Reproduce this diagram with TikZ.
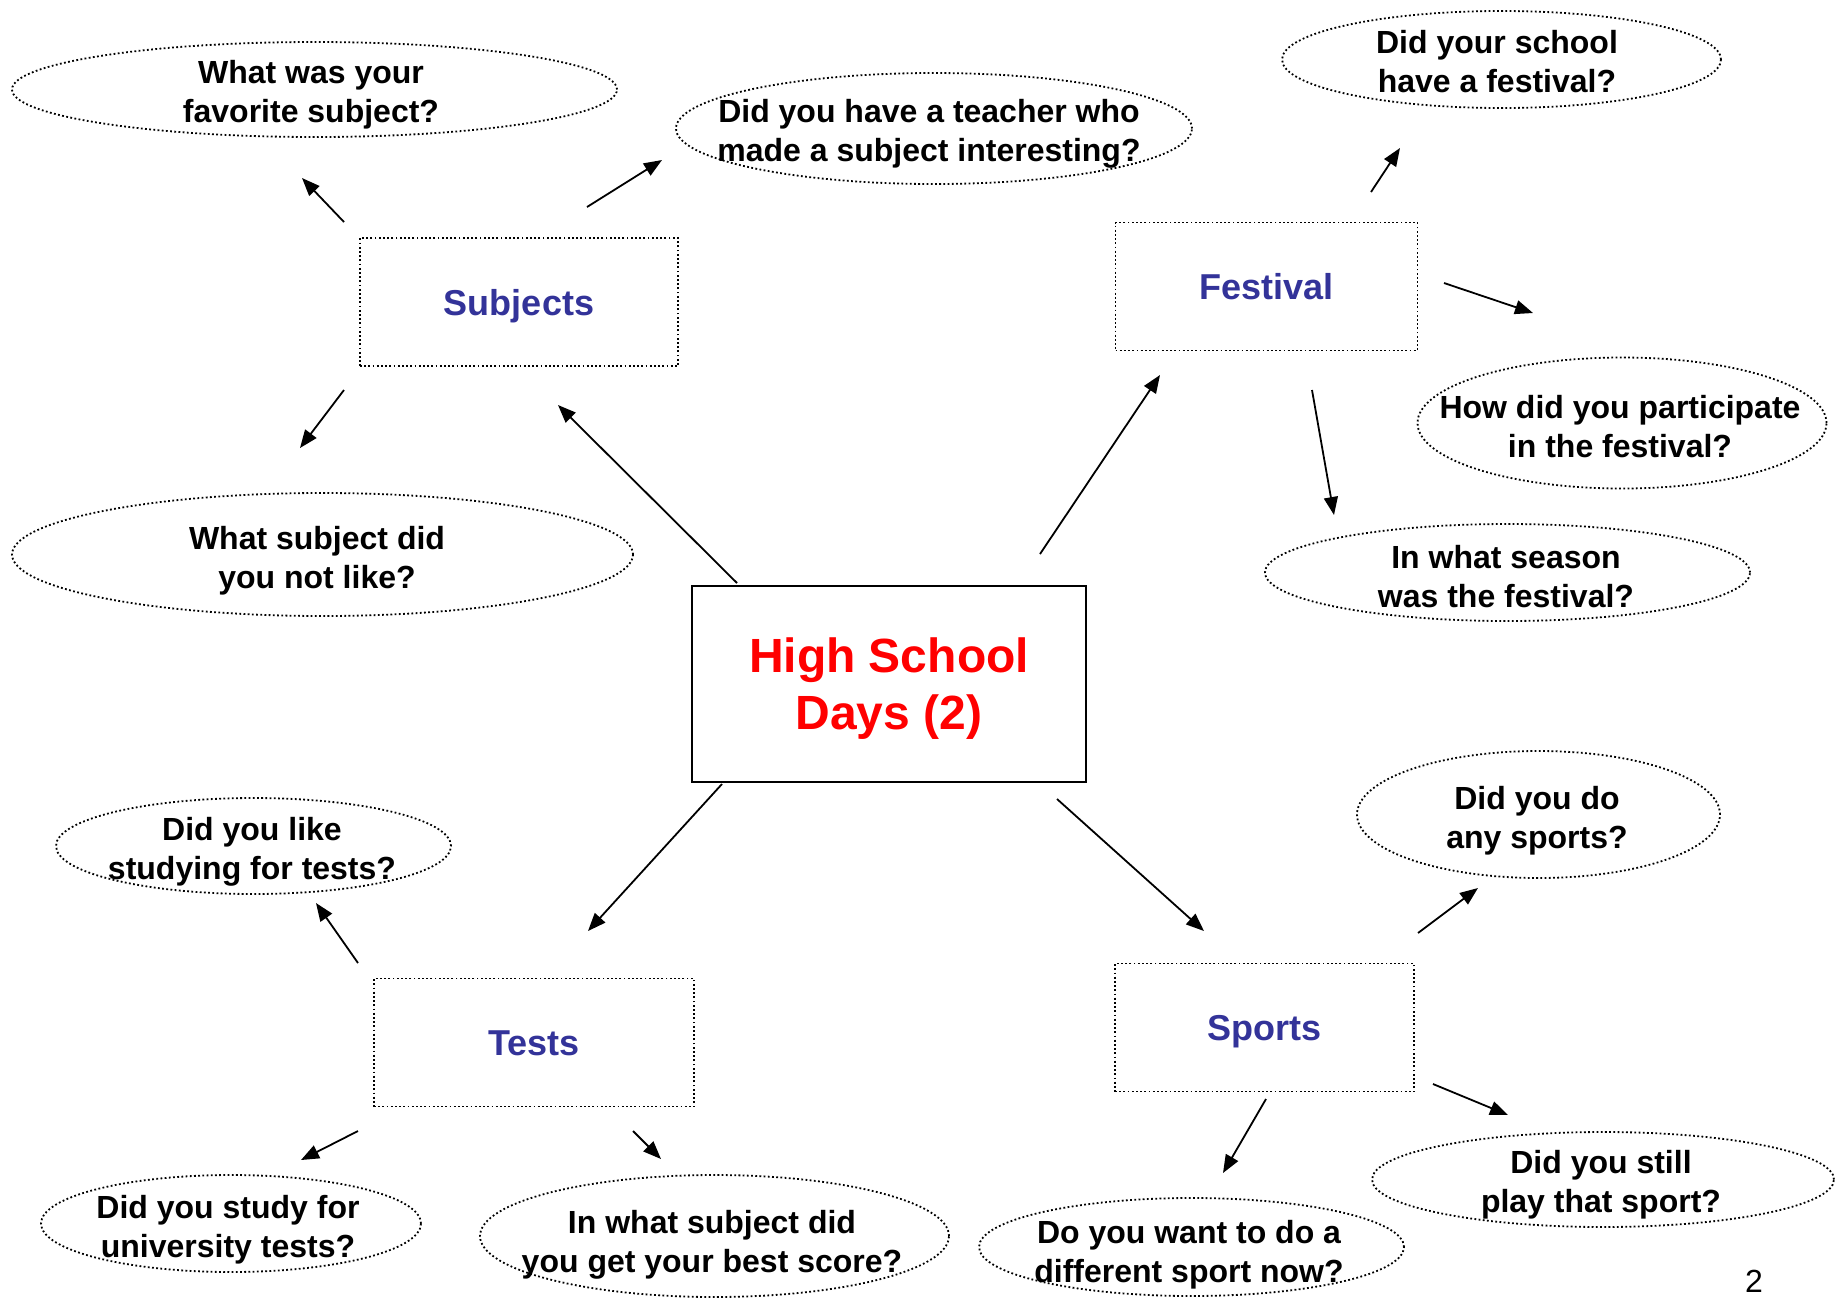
\documentclass[tikz,border=0pt]{standalone}
\usepackage{fontspec}
\setmainfont{Liberation Sans}
\usepackage{xcolor}
\usepackage{tikz}
\usetikzlibrary{arrows.meta, shapes.geometric}
\definecolor{topicblue}{RGB}{51, 51, 153}

\begin{document}
\begin{tikzpicture}[x=0.5pt, y=-0.5pt,
  dots/.style={line width=0.9pt, dash pattern=on 0.9pt off 1.2pt},
  topic/.style={draw, dots, minimum width=#1, minimum height=64pt, inner sep=0pt,
    text height=13pt, text depth=0pt,
    font=\fontsize{18pt}{21pt}\selectfont\bfseries, text=topicblue},
  bubble/.style 2 args={ellipse, draw, dots, inner sep=0pt, minimum width=#1, minimum height=#2},
  qtext/.style={align=center, inner sep=0pt, text depth=0pt, font=\fontsize{16pt}{19.4pt}\selectfont\bfseries},
  link/.style={-{Triangle[length=9pt, width=7pt]}, line width=0.9pt}]

  \path[fill=white, use as bounding box] (0,0) rectangle (1837,1298);

  % Centre box
  \node[draw, line width=1pt, minimum width=197pt, minimum height=98pt, align=center, text depth=0pt,
    font=\fontsize{24pt}{28.5pt}\selectfont\bfseries, text=red] (hub) at (889,683.5) {High School\\Days (2)};

  % Topic boxes
  \node[topic=159pt] (subj) at (519,302) {Subjects};
  \node[topic=151pt] (fest) at (1266.5,286.5) {Festival};
  \node[topic=160pt] (tests) at (534,1042.5) {Tests};
  \node[topic=149.5pt] (sport) at (1264.5,1027.5) {Sports};

  % Questions about subjects
  \node[bubble={302.5pt}{47.5pt}] (favsub) at (314.5,89.5) {};
  \node[qtext] (favsub-t) at (311,91) {What was your\\favorite subject?};
  \node[bubble={258pt}{55.5pt}] (teacher) at (934,128.5) {};
  \node[qtext] (teacher-t) at (929,130) {Did you have a teacher who\\made a subject interesting?};
  \node[bubble={310.5pt}{61.5pt}] (notlike) at (322.5,554.5) {};
  \node[qtext] (notlike-t) at (317,557) {What subject did\\you not like?};

  % Questions about the festival
  \node[bubble={219.5pt}{48.5pt}] (hadfest) at (1501.5,59.5) {};
  \node[qtext] (hadfest-t) at (1497,61) {Did your school\\have a festival?};
  \node[bubble={204.5pt}{65.5pt}] (partic) at (1622,423) {};
  \node[qtext] (partic-t) at (1620,426) {How did you participate\\in the festival?};
  \node[bubble={242.5pt}{48.5pt}] (season) at (1507.5,572.5) {};
  \node[qtext] (season-t) at (1506,576) {In what season\\was the festival?};

  % Questions about tests
  \node[bubble={197.5pt}{48pt}] (study) at (253.5,846) {};
  \node[qtext] (study-t) at (252,848) {Did you like\\studying for tests?};
  \node[bubble={190pt}{48.5pt}] (univ) at (231,1223.5) {};
  \node[qtext] (univ-t) at (228,1226) {Did you study for\\university tests?};
  \node[bubble={234.5pt}{61pt}] (best) at (714.5,1236) {};
  \node[qtext] (best-t) at (712,1241) {In what subject did\\you get your best score?};

  % Questions about sports
  \node[bubble={181.5pt}{63.5pt}] (anysport) at (1538.5,814.5) {};
  \node[qtext] (anysport-t) at (1537,817) {Did you do\\any sports?};
  \node[bubble={212.5pt}{49pt}] (other) at (1191.5,1247) {};
  \node[qtext] (other-t) at (1189,1251) {Do you want to do a\\different sport now?};
  \node[bubble={231pt}{47.5pt}] (still) at (1603,1179.5) {};
  \node[qtext] (still-t) at (1601,1181) {Did you still\\play that sport?};

  % Page number
  \node[anchor=base, inner sep=0pt, font=\fontsize{16pt}{19pt}\selectfont] (pageno) at (1754,1292) {2};

  % Arrow ends
  \coordinate (hub-subj-a) at (737,583);   \coordinate (hub-subj-b) at (558,405);
  \coordinate (hub-fest-a) at (1040,554);  \coordinate (hub-fest-b) at (1160,375);
  \coordinate (hub-tests-a) at (722,784);  \coordinate (hub-tests-b) at (588,931);
  \coordinate (hub-sport-a) at (1057,799); \coordinate (hub-sport-b) at (1204,931);
  \coordinate (subj-fav-a) at (344,222);   \coordinate (subj-fav-b) at (302,178);
  \coordinate (subj-tch-a) at (587,207);   \coordinate (subj-tch-b) at (662,160);
  \coordinate (subj-not-a) at (344,390);   \coordinate (subj-not-b) at (300,448);
  \coordinate (fest-had-a) at (1371,192);  \coordinate (fest-had-b) at (1400,148);
  \coordinate (fest-par-a) at (1444,283);  \coordinate (fest-par-b) at (1533,313);
  \coordinate (fest-sea-a) at (1312,390);  \coordinate (fest-sea-b) at (1334,515);
  \coordinate (tests-stu-a) at (358,963);  \coordinate (tests-stu-b) at (316,903);
  \coordinate (tests-uni-a) at (358,1131); \coordinate (tests-uni-b) at (301,1160);
  \coordinate (tests-bst-a) at (633,1131); \coordinate (tests-bst-b) at (661,1159);
  \coordinate (sport-any-a) at (1418,933); \coordinate (sport-any-b) at (1478,888);
  \coordinate (sport-oth-a) at (1266,1099); \coordinate (sport-oth-b) at (1223,1173);
  \coordinate (sport-sti-a) at (1433,1084); \coordinate (sport-sti-b) at (1508,1115);

  % Arrows
  \foreach \a in {hub-subj, hub-fest, hub-tests, hub-sport,
                  subj-fav, subj-tch, subj-not, fest-had, fest-par, fest-sea,
                  tests-stu, tests-uni, tests-bst, sport-any, sport-oth, sport-sti}
    \draw[link] (\a-a) -- (\a-b);
\end{tikzpicture}
\end{document}
